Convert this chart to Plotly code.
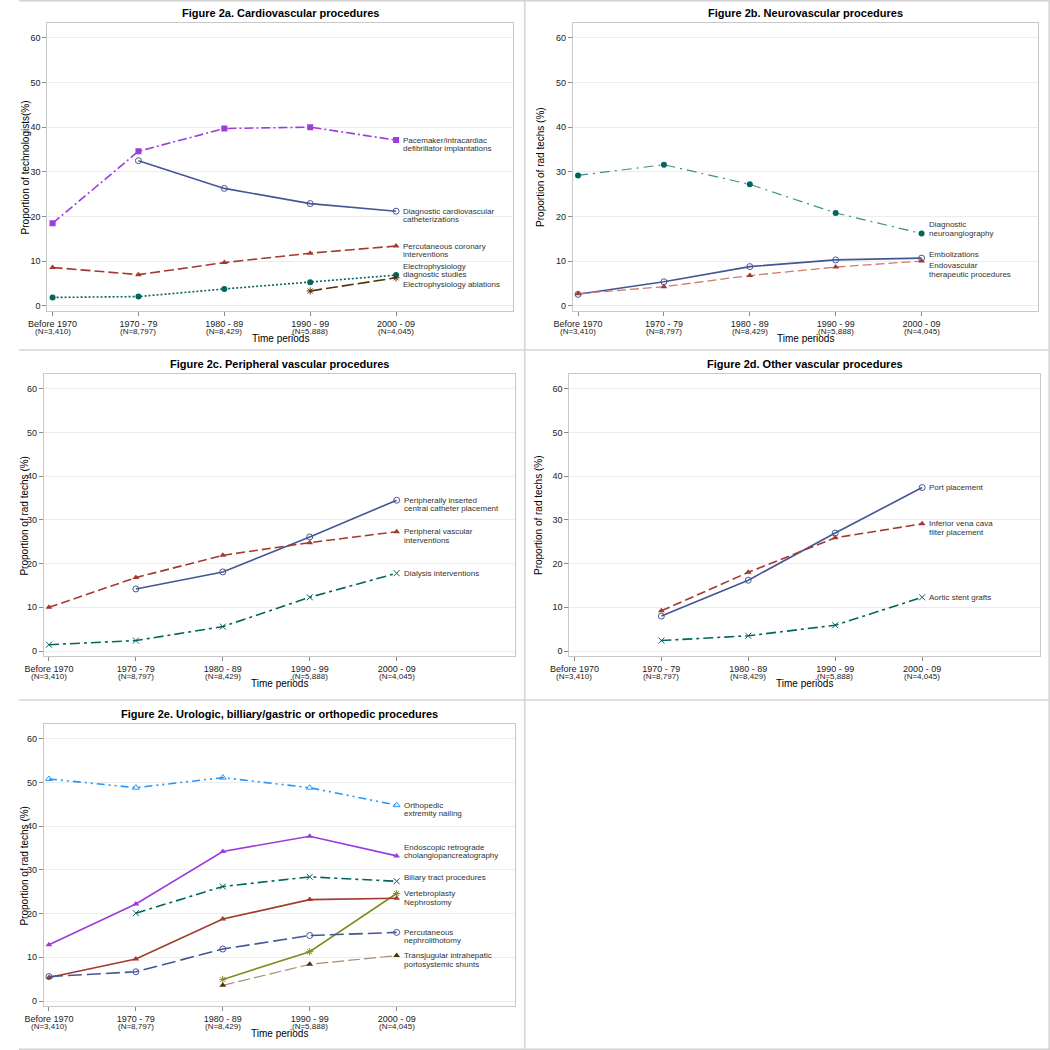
import plotly.graph_objects as go

# ---------------- data ----------------
periods = ["Before 1970", "1970 - 79", "1980 - 89", "1990 - 99", "2000 - 09"]
n_sizes = ["(N=3,410)", "(N=8,797)", "(N=8,429)", "(N=5,888)", "(N=4,045)"]
x_idx = [0, 1, 2, 3, 4]

# Figure 2a
pacemaker = [18.5, 34.6, 39.7, 40.0, 37.1]
diag_cardio_cath = [None, 32.5, 26.3, 22.9, 21.2]
perc_coronary = [8.6, 7.0, 9.7, 11.8, 13.4]
ep_diagnostic = [1.9, 2.1, 3.8, 5.3, 6.9]
ep_ablations = [None, None, None, 3.35, 6.3]
# Figure 2b
diag_neuro = [29.2, 31.6, 27.2, 20.8, 16.2]
embolizations = [2.6, 5.4, 8.8, 10.3, 10.7]
endovascular = [2.75, 4.3, 6.8, 8.7, 10.05]
# Figure 2c
picc = [None, 14.2, 18.1, 26.1, 34.5]
periph_interv = [10.0, 16.8, 21.9, 24.8, 27.3]
dialysis = [1.45, 2.4, 5.6, 12.3, 17.8]
# Figure 2d
port = [None, 8.0, 16.2, 27.0, 37.4]
ivc_filter = [None, 9.2, 18.0, 25.9, 29.1]
aortic_stent = [None, 2.4, 3.5, 5.9, 12.3]
# Figure 2e
ortho_nailing = [50.8, 48.8, 51.1, 48.8, 44.8]
ercp = [12.9, 22.2, 34.2, 37.7, 33.2]
biliary = [None, 20.1, 26.2, 28.4, 27.4]
vertebroplasty = [None, None, 4.95, 11.3, 24.6]
nephrostomy = [5.4, 9.6, 18.75, 23.2, 23.5]
pcnl = [5.6, 6.7, 11.9, 15.0, 15.7]
tips = [None, None, 3.6, 8.4, 10.4]

# ---------------- styles ----------------
BLUE = "#445694"
RED = "#A23A2E"
TEAL = "#01665E"
BROWN = "#543005"
PURPLE = "#9D3CDB"
OLIVE = "#7F8E1F"
LBLUE = "#2597FA"

def S(vals, label, color, dash, symbol, lcolor=None, width=1.6, shift=0, msize=6):
    return dict(vals=vals, label=label, color=color, lcolor=lcolor or color,
                dash=dash, symbol=symbol, width=width, shift=shift, msize=msize)

# box = plot area (left, top, right, bottom) in target pixels; ytx = y-title centre x
panels = [
    dict(title="Figure 2a. Cardiovascular procedures",
         ytitle="Proportion of technologists(%)",
         box=(48, 23, 513, 311), ytx=26,
         series=[
             S(pacemaker, ["Pacemaker/intracardiac", "defibrillator implantations"], PURPLE,
               "9px,3px,2px,3px", "square"),
             S(diag_cardio_cath, ["Diagnostic cardiovascular", "catheterizations"], BLUE,
               "solid", "circle-open"),
             S(perc_coronary, ["Percutaneous coronary", "interventions"], RED,
               "10px,4px", "triangle-up"),
             S(ep_diagnostic, ["Electrophysiology", "diagnostic studies"], TEAL,
               "2px,2px", "circle", shift=9),
             S(ep_ablations, ["Electrophysiology ablations"], BROWN,
               "12px,4px", "asterisk-open", shift=-7),
         ]),
    dict(title="Figure 2b. Neurovascular procedures",
         ytitle="Proportion of rad techs (%)",
         box=(573, 23, 1038, 311), ytx=540,
         series=[
             S(diag_neuro, ["Diagnostic", "neuroangiography"], TEAL,
               "10px,5px,2px,5px", "circle", lcolor="#3E9189", width=1.2, shift=9),
             S(embolizations, ["Embolizations"], BLUE, "solid", "circle-open", shift=4),
             S(endovascular, ["Endovascular", "therapeutic procedures"], RED,
               "9px,4px", "triangle-up", lcolor="#D27A6E", width=1.3, shift=-4.7),
         ]),
    dict(title="Figure 2c. Peripheral vascular procedures",
         ytitle="Proportion of rad techs (%)",
         box=(44.3, 374.3, 515, 656), ytx=25,
         series=[
             S(picc, ["Peripherally inserted", "central catheter placement"], BLUE,
               "solid", "circle-open"),
             S(periph_interv, ["Peripheral vascular", "interventions"], RED,
               "9px,4px", "triangle-up"),
             S(dialysis, ["Dialysis interventions"], TEAL,
               "10px,4px,3px,4px", "x-thin-open"),
         ]),
    dict(title="Figure 2d. Other vascular procedures",
         ytitle="Proportion of rad techs (%)",
         box=(569.3, 374.3, 1040, 656), ytx=538,
         series=[
             S(port, ["Port placement"], BLUE, "solid", "circle-open"),
             S(ivc_filter, ["Inferior vena cava", "filter placement"], RED,
               "9px,4px", "triangle-up"),
             S(aortic_stent, ["Aortic stent grafts"], TEAL,
               "10px,4px,3px,4px", "x-thin-open"),
         ]),
    dict(title="Figure 2e. Urologic, billiary/gastric or orthopedic procedures",
         ytitle="Proportion of rad techs (%)",
         box=(44.3, 724.3, 515, 1006), ytx=25,
         series=[
             S(ortho_nailing, ["Orthopedic", "extremity nailing"], LBLUE,
               "8px,4px,2px,4px,2px,4px", "triangle-up-open"),
             S(ercp, ["Endoscopic retrograde", "cholangiopancreatography"], PURPLE,
               "solid", "triangle-up", shift=8.7),
             S(biliary, ["Biliary tract procedures"], TEAL,
               "10px,4px,3px,4px", "x-thin-open", shift=4),
             S(vertebroplasty, ["Vertebroplasty"], OLIVE, "solid", "asterisk-open"),
             S(nephrostomy, ["Nephrostomy"], RED, "solid", "triangle-up", shift=-4.3),
             S(pcnl, ["Percutaneous", "nephrolithotomy"], BLUE, "14px,5px", "circle-open"),
             S(tips, ["Transjugular intrahepatic", "portosystemic shunts"], BROWN,
               "12px,4px", "triangle-up", lcolor="#A88C70", width=1.2),
         ]),
]

W = H = 1050
# the page photo maps a figure x to 0.981*x + 19.6; place things so they land on target
SX, OX = 0.981, 19.6
def PX(xt):
    return max(0.0, (xt - OX) / SX) / W

FONT = "Liberation Sans, Arial, sans-serif"
TXT = "#333333"
LINE_GAP = 8.5

fig = go.Figure()
annotations = []
layout = {}

for i, p in enumerate(panels):
    k = "" if i == 0 else str(i + 1)
    x0, y0, x1, y1 = p["box"]
    xa, ya = "x" + k, "y" + k
    layout["xaxis" + k] = dict(
        domain=[PX(x0), PX(x1)], anchor=ya, range=[-0.06, 5.36],
        tickmode="array", tickvals=x_idx, ticktext=periods,
        tickfont=dict(size=9, color="#222", family=FONT),
        ticks="outside", ticklen=4, tickcolor="#8a8a8a",
        showline=True, linecolor="#c8c8c8", linewidth=1, mirror=True,
        showgrid=False, zeroline=False, fixedrange=True)
    layout["yaxis" + k] = dict(
        domain=[1 - y1 / H, 1 - y0 / H], anchor=xa, range=[-1.13, 63.3],
        tickmode="array", tickvals=[0, 10, 20, 30, 40, 50, 60],
        tickfont=dict(size=9, color="#222", family=FONT),
        ticks="outside", ticklen=4, tickcolor="#8a8a8a",
        showline=True, linecolor="#c8c8c8", linewidth=1, mirror=True,
        showgrid=True, gridcolor="#ececec", gridwidth=1, zeroline=False,
        fixedrange=True)

    # title
    annotations.append(dict(text="<b>%s</b>" % p["title"], xref="paper", yref="paper",
                            x=PX((x0 + x1) / 2), y=1 - (y0 - 10) / H,
                            xanchor="center", yanchor="middle", showarrow=False,
                            font=dict(size=11, color="#000", family=FONT)))
    # y title
    annotations.append(dict(text=p["ytitle"], xref="paper", yref="paper",
                            x=PX(p["ytx"]), y=1 - (y0 + y1) / 2 / H, textangle=-90,
                            xanchor="center", yanchor="middle", showarrow=False,
                            font=dict(size=10, color="#000", family=FONT)))
    # x title
    annotations.append(dict(text="Time periods", xref="paper", yref="paper",
                            x=PX((x0 + x1) / 2), y=1 - (y1 + 27.5) / H,
                            xanchor="center", yanchor="middle", showarrow=False,
                            font=dict(size=10, color="#000", family=FONT)))
    # N labels
    for xi, nl in zip(x_idx, n_sizes):
        annotations.append(dict(text=nl, xref=xa, yref="paper", x=xi, y=1 - (y1 + 20) / H,
                                xanchor="center", yanchor="middle", showarrow=False,
                                font=dict(size=8, color="#222", family=FONT)))

    for s in p["series"]:
        open_sym = s["symbol"].endswith("-open")
        fig.add_trace(go.Scatter(
            x=x_idx, y=s["vals"], xaxis=xa, yaxis=ya, mode="lines+markers",
            connectgaps=False, showlegend=False, hoverinfo="x+y",
            line=dict(color=s["lcolor"], width=s["width"], dash=s["dash"]),
            marker=dict(symbol=s["symbol"], size=s["msize"], color=s["color"],
                        line=dict(color=s["color"], width=1 if open_sym else 0))))
        # end label
        last = [v for v in s["vals"] if v is not None][-1]
        lx = max(j for j, v in enumerate(s["vals"]) if v is not None)
        for li, line in enumerate(s["label"]):
            annotations.append(dict(text=line, xref=xa, yref=ya, x=lx, y=last,
                                    xanchor="left", yanchor="middle", xshift=5,
                                    yshift=s["shift"] - li * LINE_GAP, showarrow=False,
                                    font=dict(size=8, color=TXT, family=FONT)))

# panel frames
shapes = []
fc = "#d4d4d4"
def hline(yy):
    shapes.append(dict(type="line", xref="paper", yref="paper", x0=0, x1=1,
                       y0=1 - yy / H, y1=1 - yy / H, line=dict(color=fc, width=1.5)))
def vline(xx):
    shapes.append(dict(type="line", xref="paper", yref="paper", x0=xx, x1=xx,
                       y0=0, y1=1, line=dict(color=fc, width=1.5)))
hline(0.8)
hline(350)
hline(700)
hline(1049.2)
vline(PX(525))
vline(0.9992)

fig.update_layout(width=W, height=H, margin=dict(l=0, r=0, t=0, b=0),
                  paper_bgcolor="white", plot_bgcolor="white",
                  font=dict(family=FONT, color=TXT),
                  annotations=annotations, shapes=shapes, **layout)

fig.write_html("out.html",
               config={"displayModeBar": False},
               post_script="document.body.style.margin='0';"
                           "document.body.style.overflow='hidden';"
                           "document.documentElement.style.overflow='hidden';")
